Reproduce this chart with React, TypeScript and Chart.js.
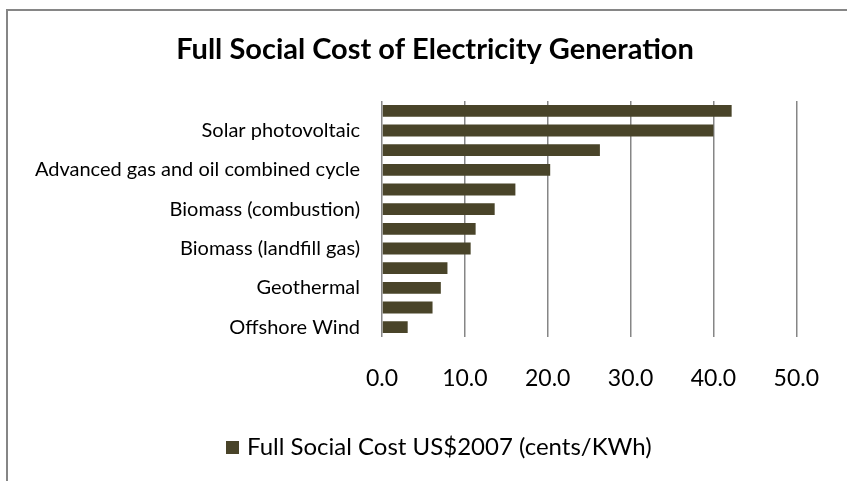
import { useEffect, useRef } from "react";
import { Chart, registerables } from "chart.js";

Chart.register(...registerables);

// Generation technologies, top to bottom (only every other one carries a label)
const categories = [
  "",
  "Solar photovoltaic",
  "",
  "Advanced gas and oil combined cycle",
  "",
  "Biomass (combustion)",
  "",
  "Biomass (landfill gas)",
  "",
  "Geothermal",
  "",
  "Offshore Wind",
];

// Full social cost, US cents (2007) per kWh
const fullSocialCost = [42.2, 40.0, 26.3, 20.3, 16.1, 13.6, 11.3, 10.7, 7.9, 7.1, 6.1, 3.1];

const seriesLabel = "Full Social Cost US$2007 (cents/KWh)";
const chartTitle = "Full Social Cost of Electricity Generation";

const xMin = 0;
const xMax = 50;
const xStep = 10;

const BAR_COLOR = "#494429";
const FRAME_COLOR = "#868686";
const FONT = "Lato";

// Frame, title and legend in the style of an office-suite chart object
const decorPlugin = {
  id: "decor",
  beforeDraw(chart: Chart) {
    const ctx = chart.ctx;
    ctx.save();
    ctx.fillStyle = "#ffffff";
    ctx.fillRect(0, 0, chart.width, chart.height);
    ctx.strokeStyle = FRAME_COLOR;
    ctx.lineWidth = 2;
    ctx.beginPath();
    ctx.moveTo(7, chart.height);
    ctx.lineTo(7, 10);
    ctx.lineTo(chart.width, 10);
    ctx.stroke();
    ctx.restore();
  },
  afterDraw(chart: Chart) {
    const ctx = chart.ctx;
    ctx.save();
    // title
    ctx.fillStyle = "#000000";
    ctx.font = `bold 29px ${FONT}`;
    ctx.textAlign = "center";
    ctx.textBaseline = "alphabetic";
    ctx.fillText(chartTitle, 435, 59);

    // legend
    const ds = chart.data.datasets[0];
    ctx.fillStyle = ds.backgroundColor as string;
    ctx.fillRect(226, 441, 13, 13);
    ctx.fillStyle = "#000000";
    ctx.font = `24px ${FONT}`;
    ctx.textAlign = "left";
    ctx.fillText(ds.label as string, 247, 455);
    ctx.restore();
  },
};

export default function App() {
  const canvasRef = useRef<HTMLCanvasElement | null>(null);

  useEffect(() => {
    if (!canvasRef.current) return;
    const chart = new Chart(canvasRef.current, {
      type: "bar",
      data: {
        labels: categories,
        datasets: [
          {
            label: seriesLabel,
            data: fullSocialCost,
            backgroundColor: BAR_COLOR,
            borderWidth: 0,
            barPercentage: 0.6,
            categoryPercentage: 1,
          },
        ],
      },
      options: {
        indexAxis: "y",
        responsive: false,
        animation: false,
        devicePixelRatio: 1,
        layout: { padding: { top: 101, right: 42, bottom: 0, left: 0 } },
        plugins: {
          legend: { display: false },
          title: { display: false },
          tooltip: { enabled: false },
        },
        scales: {
          x: {
            min: xMin,
            max: xMax,
            ticks: {
              stepSize: xStep,
              callback: (v: any) => Number(v).toFixed(1),
              font: { family: FONT, size: 23 },
              color: "#000000",
              padding: 28,
            },
            grid: { color: FRAME_COLOR, lineWidth: 1.5, drawTicks: false },
            border: { display: false },
            afterFit: (s: any) => {
              s.height = 144;
            },
          },
          y: {
            ticks: {
              autoSkip: false,
              font: { family: FONT, size: 20 },
              color: "#000000",
              padding: 22,
            },
            grid: { display: false, drawTicks: false },
            border: { display: false },
            afterFit: (s: any) => {
              s.width = 382;
            },
          },
        },
      },
      plugins: [decorPlugin],
    });
    return () => chart.destroy();
  }, []);

  return (
    <div style={{ position: "fixed", left: 0, top: 0, width: 847, height: 481, overflow: "hidden", background: "#fff" }}>
      <canvas ref={canvasRef} width={847} height={481} />
    </div>
  );
}
